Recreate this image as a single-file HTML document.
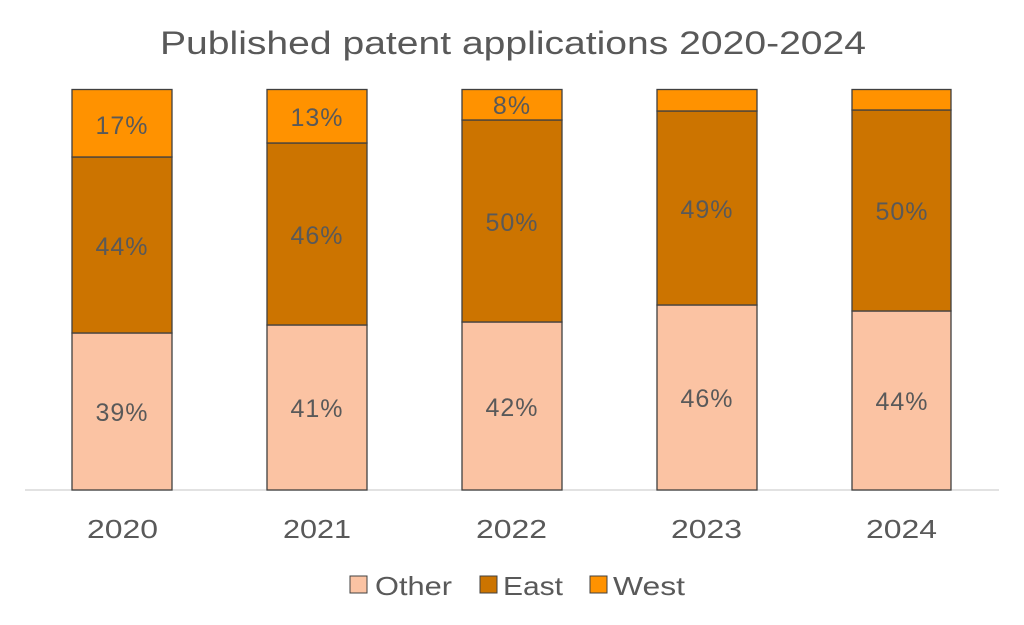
<!DOCTYPE html>
<html><head><style>body{margin:0;background:#fff}svg{display:block}text{font-family:"Liberation Sans",sans-serif;fill:#595959}</style></head><body>
<svg width="1024" height="625" viewBox="0 0 1024 625">
<text x="160" y="54" font-size="32" textLength="706" lengthAdjust="spacingAndGlyphs">Published patent applications 2020-2024</text>
<line x1="25" y1="490" x2="999" y2="490" stroke="#d9d9d9" stroke-width="1.5"/>
<g stroke="#404040" stroke-width="1.3">
<rect x="72" y="333" width="100" height="157" fill="#FBC3A3"/><rect x="72" y="157" width="100" height="176" fill="#CC7400"/><rect x="72" y="89.5" width="100" height="67.5" fill="#FF9200"/>
<rect x="267" y="325" width="100" height="165" fill="#FBC3A3"/><rect x="267" y="143" width="100" height="182" fill="#CC7400"/><rect x="267" y="89.5" width="100" height="53.5" fill="#FF9200"/>
<rect x="462" y="322" width="100" height="168" fill="#FBC3A3"/><rect x="462" y="120" width="100" height="202" fill="#CC7400"/><rect x="462" y="89.5" width="100" height="30.5" fill="#FF9200"/>
<rect x="657" y="305" width="100" height="185" fill="#FBC3A3"/><rect x="657" y="111" width="100" height="194" fill="#CC7400"/><rect x="657" y="89.5" width="100" height="21.5" fill="#FF9200"/>
<rect x="852" y="311" width="99" height="179" fill="#FBC3A3"/><rect x="852" y="110" width="99" height="201" fill="#CC7400"/><rect x="852" y="89.5" width="99" height="20.5" fill="#FF9200"/>
</g>
<g font-size="25" text-anchor="middle" letter-spacing="1">
<text x="122" y="421">39%</text><text x="122" y="255">44%</text><text x="122" y="134">17%</text>
<text x="317" y="417">41%</text><text x="317" y="244">46%</text><text x="317" y="126">13%</text>
<text x="512" y="416">42%</text><text x="512" y="231">50%</text><text x="512" y="114">8%</text>
<text x="707" y="407">46%</text><text x="707" y="218">49%</text>
<text x="902" y="410">44%</text><text x="902" y="220">50%</text>
</g>
<g font-size="26">
<text x="87" y="538" textLength="71" lengthAdjust="spacingAndGlyphs">2020</text>
<text x="283" y="538" textLength="68" lengthAdjust="spacingAndGlyphs">2021</text>
<text x="476" y="538" textLength="71" lengthAdjust="spacingAndGlyphs">2022</text>
<text x="671" y="538" textLength="71" lengthAdjust="spacingAndGlyphs">2023</text>
<text x="866" y="538" textLength="71" lengthAdjust="spacingAndGlyphs">2024</text>
</g>
<rect x="350" y="576" width="17" height="17" fill="#FBC3A3" stroke="#404040"/>
<text x="375" y="595" font-size="26" textLength="77" lengthAdjust="spacingAndGlyphs">Other</text>
<rect x="480" y="576" width="17" height="17" fill="#CC7400" stroke="#404040"/>
<text x="503" y="595" font-size="26" textLength="60" lengthAdjust="spacingAndGlyphs">East</text>
<rect x="590" y="576" width="17" height="17" fill="#FF9200" stroke="#404040"/>
<text x="613" y="595" font-size="26" textLength="72" lengthAdjust="spacingAndGlyphs">West</text>
</svg>
</body></html>
